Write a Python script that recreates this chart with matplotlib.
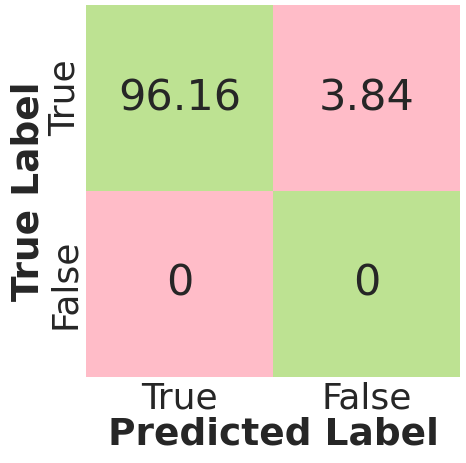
import numpy as np
import matplotlib
matplotlib.use("Agg")
import matplotlib.pyplot as plt
import seaborn as sns
from matplotlib.colors import ListedColormap

row_labels = ["True", "False"]
col_labels = ["True", "False"]
values = [[96.16, 3.84],
          [0, 0]]
cell_colors = ["#ffbcc8", "#bde292"]

sns.set_theme(style="white")
plt.rcParams['font.family'] = ['DejaVu Sans']

fig = plt.figure(figsize=(4.66, 4.63), dpi=100)
ax = fig.add_axes([0.1845, 0.186, 0.8025, 0.803])

vals = np.array(values, dtype=float)
color_idx = np.eye(len(row_labels))
annot = [[f"{v:g}" for v in row] for row in values]
sns.heatmap(color_idx, annot=np.array(annot), fmt="", cmap=ListedColormap(cell_colors),
            cbar=False, ax=ax, vmin=0, vmax=1,
            annot_kws={"fontsize": 31, "color": "#262626"},
            xticklabels=col_labels, yticklabels=row_labels)
ax.tick_params(axis='both', length=0, labelsize=26, labelcolor="#262626", pad=3)
plt.setp(ax.get_yticklabels(), rotation=90, va="center")
ax.set_xlabel("Predicted Label", fontsize=27, fontweight="bold", color="#262626", labelpad=1)
ax.set_ylabel("True Label", fontsize=27, fontweight="bold", color="#262626", labelpad=1)
fig.savefig("out.png", dpi=100)
